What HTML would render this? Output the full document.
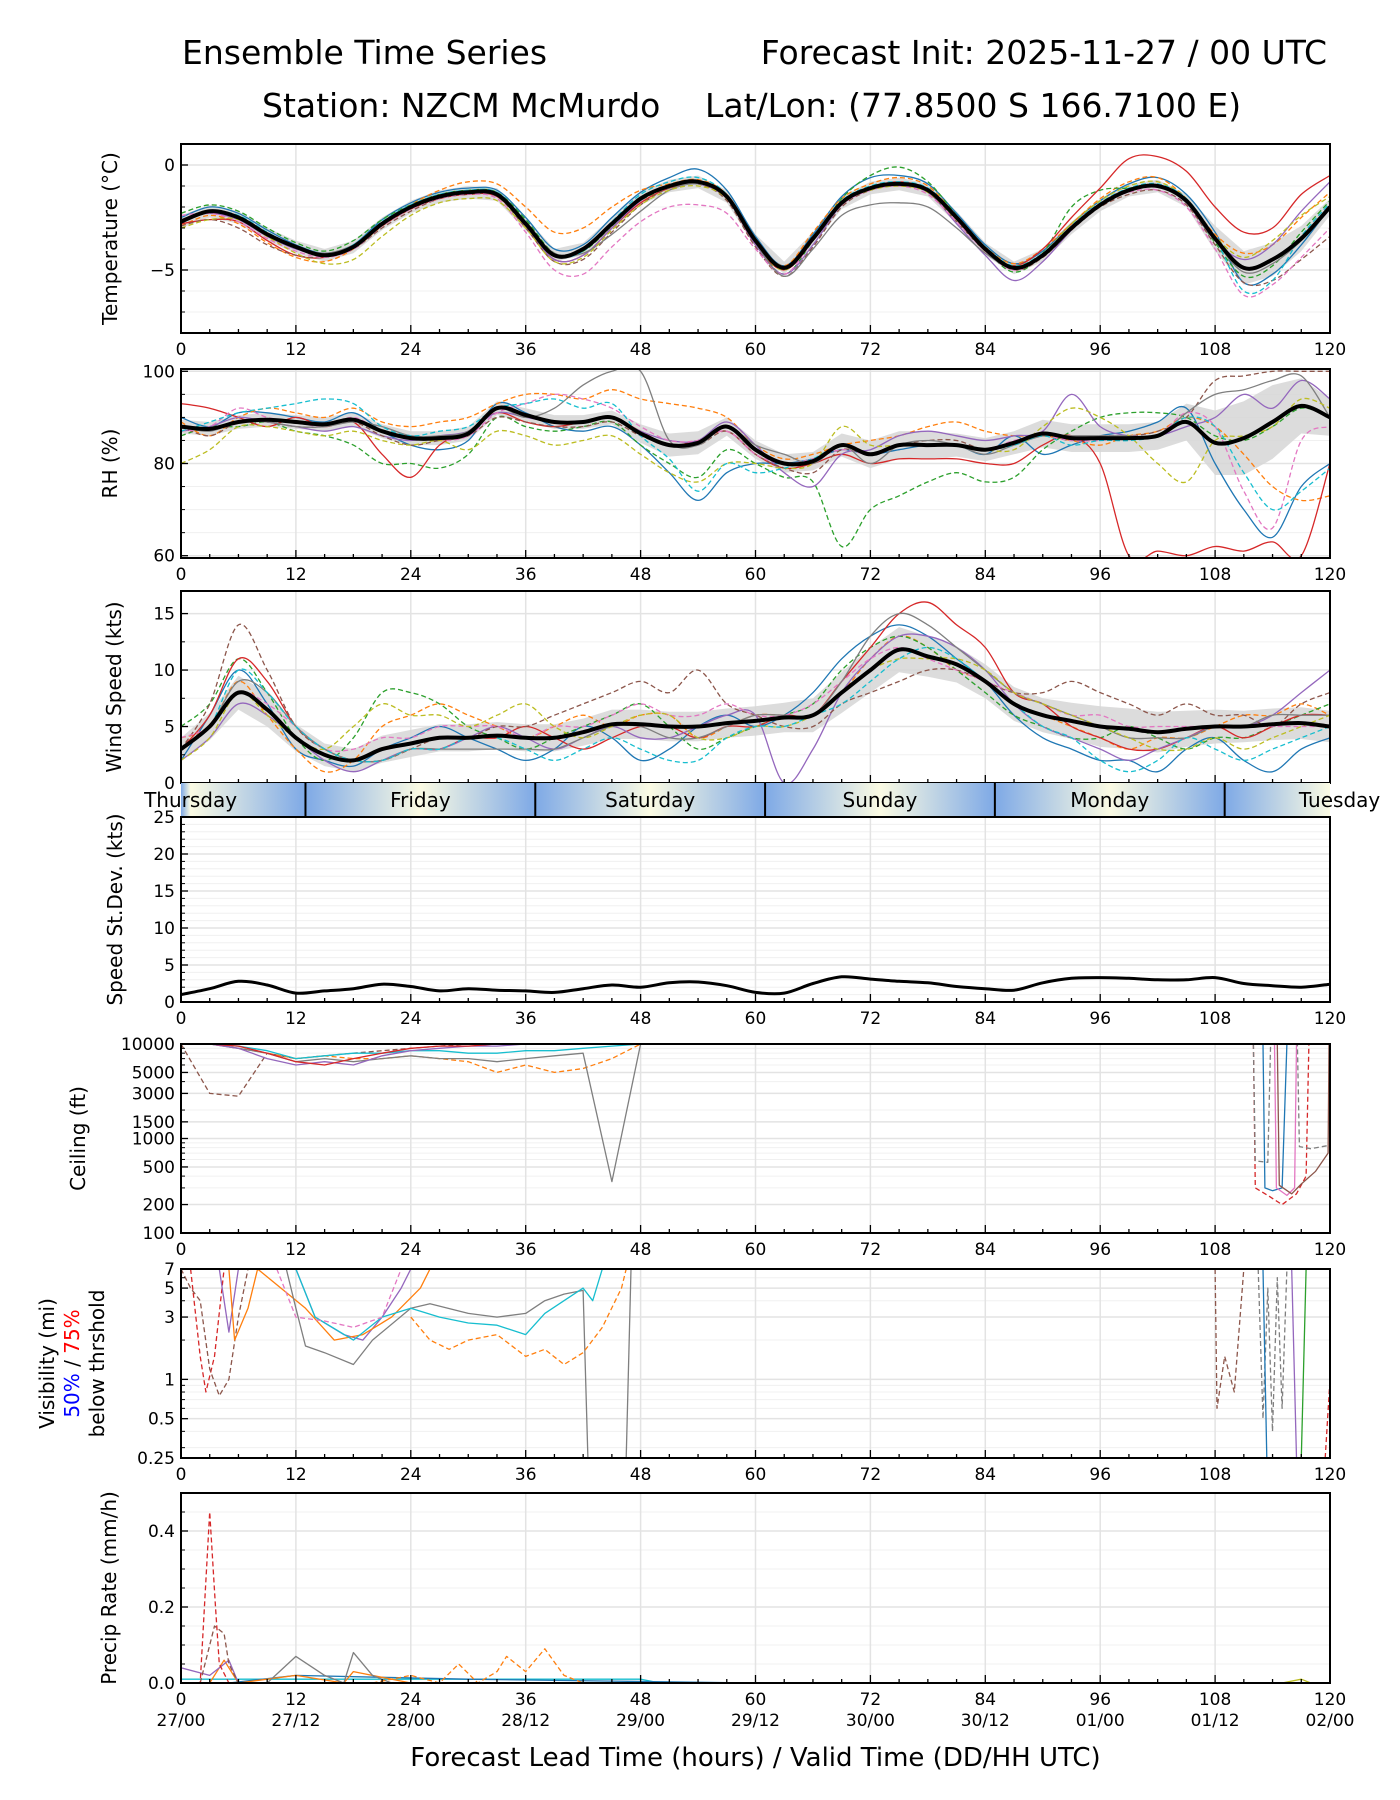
<!DOCTYPE html>
<html><head><meta charset="utf-8">
<style>
html,body{margin:0;padding:0;background:#fff;}
svg{display:block;font-family:"DejaVu Sans","Liberation Sans",sans-serif;}
</style></head>
<body>
<svg id="chart" width="1400" height="1800" viewBox="0 0 1400 1800" xmlns="http://www.w3.org/2000/svg">
<rect width="1400" height="1800" fill="#fff"/>
<text x="182" y="64" font-size="33">Ensemble Time Series</text>
<text x="1327" y="64" font-size="33" text-anchor="end">Forecast Init: 2025-11-27 / 00 UTC</text>
<text x="262" y="117" font-size="33">Station: NZCM McMurdo</text>
<text x="705" y="117" font-size="33">Lat/Lon: (77.8500 S 166.7100 E)</text>
<g id="plots"></g>
</svg>
<script>
// ---------- DATA ----------
const hours3 = [0,3,6,9,12,15,18,21,24,27,30,33,36,39,42,45,48,51,54,57,60,63,66,69,72,75,78,81,84,87,90,93,96,99,102,105,108,111,114,117,120];
const xTicks = [0,12,24,36,48,60,72,84,96,108,120];
const validLabels = ["27/00","27/12","28/00","28/12","29/00","29/12","30/00","30/12","01/00","01/12","02/00"];
const memberColors = ["#1f77b4","#ff7f0e","#2ca02c","#d62728","#9467bd","#8c564b","#e377c2","#7f7f7f","#bcbd22","#17becf"];
const memberDash = [false,true,true,false,false,true,true,false,true,true];

const tempMean = [-2.7,-2.2,-2.5,-3.3,-3.9,-4.3,-3.9,-2.8,-2.0,-1.5,-1.3,-1.4,-2.8,-4.3,-4.0,-2.8,-1.6,-1.0,-0.8,-1.5,-3.6,-4.9,-3.5,-1.8,-1.1,-0.9,-1.2,-2.5,-4.0,-4.9,-4.3,-3.0,-1.9,-1.2,-1.0,-1.7,-3.5,-4.9,-4.5,-3.5,-2.0];
const tempSpread = [0.3,0.3,0.3,0.3,0.3,0.3,0.3,0.3,0.3,0.3,0.3,0.3,0.3,0.3,0.3,0.3,0.3,0.3,0.3,0.3,0.3,0.3,0.3,0.3,0.3,0.3,0.3,0.3,0.3,0.3,0.3,0.3,0.3,0.3,0.3,0.3,0.6,0.8,0.8,0.6,0.4];
const tempM0 = [-2.5,-2.0,-2.3,-3.1,-3.8,-4.2,-3.8,-2.6,-1.8,-1.3,-1.1,-1.2,-2.5,-4.0,-3.8,-2.5,-1.3,-0.6,-0.2,-1.2,-3.4,-4.8,-3.3,-1.5,-0.6,-0.5,-0.9,-2.3,-3.8,-4.7,-4.1,-2.8,-1.7,-0.9,-0.6,-1.4,-3.2,-5.6,-5.2,-3.8,-2.0];
const tempM1 = [-2.9,-2.4,-2.8,-3.7,-4.4,-4.6,-4.0,-2.9,-1.9,-1.2,-0.8,-0.9,-2.0,-3.2,-3.0,-2.0,-1.2,-0.9,-0.7,-1.4,-3.5,-4.8,-3.2,-1.6,-0.9,-0.6,-1.0,-2.4,-3.9,-4.7,-4.0,-2.8,-1.6,-0.8,-0.6,-1.6,-3.3,-4.2,-3.8,-2.5,-1.3];
const tempM2 = [-2.3,-1.9,-2.2,-3.0,-3.7,-4.1,-3.6,-2.6,-1.9,-1.4,-1.2,-1.3,-2.6,-4.2,-4.1,-2.9,-1.7,-1.1,-0.9,-1.6,-3.7,-5.2,-3.6,-1.6,-0.5,-0.1,-0.8,-2.4,-4.0,-5.1,-4.2,-2.0,-1.2,-1.1,-1.0,-1.8,-3.7,-5.3,-4.8,-3.2,-1.7];
const tempM3 = [-2.8,-2.6,-2.7,-3.6,-4.3,-4.4,-3.9,-2.9,-2.1,-1.6,-1.4,-1.5,-2.9,-4.5,-4.3,-3.0,-1.8,-1.1,-0.9,-1.6,-3.8,-5.0,-3.6,-1.9,-1.1,-0.8,-1.2,-2.6,-4.1,-4.8,-4.0,-2.5,-1.1,0.3,0.4,-0.3,-2.0,-3.2,-3.0,-1.4,-0.5];
const tempM4 = [-2.6,-2.3,-2.6,-3.4,-4.0,-4.3,-3.9,-2.8,-2.0,-1.5,-1.3,-1.4,-2.9,-4.5,-4.3,-3.0,-1.7,-1.0,-0.9,-1.6,-3.8,-5.2,-3.8,-1.9,-1.2,-1.0,-1.3,-2.8,-4.3,-5.5,-4.6,-3.1,-1.9,-1.2,-1.0,-1.8,-3.6,-4.5,-3.8,-2.2,-0.8];
const tempM5 = [-2.9,-2.6,-3.0,-3.8,-4.3,-4.4,-4.0,-3.0,-2.2,-1.6,-1.4,-1.5,-3.0,-4.6,-4.5,-3.2,-1.9,-1.1,-0.9,-1.7,-3.9,-5.3,-3.9,-2.0,-1.2,-1.0,-1.3,-2.7,-4.1,-5.0,-4.4,-3.1,-2.0,-1.4,-1.2,-1.9,-3.8,-5.6,-5.5,-4.5,-3.4];
const tempM6 = [-2.4,-2.3,-2.7,-3.5,-4.1,-4.4,-4.0,-2.9,-2.1,-1.6,-1.4,-1.6,-3.2,-5.0,-5.2,-3.9,-2.7,-2.0,-1.9,-2.3,-4.0,-5.2,-3.6,-1.9,-1.2,-1.0,-1.4,-2.7,-4.1,-5.0,-4.3,-3.0,-1.9,-1.3,-1.2,-2.0,-4.0,-6.2,-5.7,-4.4,-3.0];
const tempM7 = [-2.6,-2.2,-2.5,-3.3,-3.9,-4.2,-3.8,-2.8,-2.0,-1.5,-1.3,-1.4,-2.8,-4.2,-4.2,-3.3,-2.2,-1.2,-0.9,-1.5,-3.7,-5.3,-4.0,-2.4,-1.9,-1.8,-2.0,-3.0,-4.2,-4.9,-4.3,-3.0,-1.9,-1.2,-1.0,-1.7,-3.6,-5.1,-4.7,-3.6,-2.1];
const tempM8 = [-3.0,-2.6,-2.6,-3.4,-4.2,-4.7,-4.5,-3.4,-2.4,-1.8,-1.6,-1.7,-3.0,-4.6,-4.4,-3.1,-1.9,-1.2,-1.0,-1.6,-3.7,-5.0,-3.5,-1.8,-1.2,-1.0,-1.3,-2.6,-4.0,-4.8,-4.2,-2.8,-1.7,-1.0,-0.8,-1.6,-3.4,-4.4,-3.6,-2.4,-1.5];
const tempM9 = [-2.7,-2.2,-2.4,-3.2,-3.9,-4.3,-3.8,-2.7,-1.9,-1.4,-1.2,-1.3,-2.7,-4.3,-4.1,-2.7,-1.4,-0.8,-0.6,-1.4,-3.5,-4.9,-3.4,-1.7,-1.0,-0.8,-1.1,-2.4,-3.9,-4.8,-4.2,-2.9,-1.8,-1.1,-0.9,-1.6,-3.5,-6.0,-5.5,-3.4,-1.8];

const rhMean = [88,87.5,89,89.5,89,88.5,89.5,87,85.5,85.5,86.5,92,90.5,89,89,90,86.5,84,84.5,88,83,80,80.5,84,82,84,84,84,83,84.5,86.5,85.5,85.5,85.5,86,89,84.5,85.5,89,92.5,90];
const rhSpread = [1.5,1.5,1.5,1.5,1.5,1.5,1.5,1.5,1.5,1.5,1.5,1.5,1.5,1.5,1.5,1.5,2,2.5,2.5,2,2,2,2,2.5,3,3,3,2.5,2.5,2.5,3,3,3,3,3,4,7,8,8,6,4];
const rhM0 = [90,88,91,91,90,89,91,87,84,83,85,93,91,88,87,88,84,78,72,78,80,80,81,83,82,83,84,84,82,86,82,84,86,87,89,92,80,70,64,75,80];
const rhM1 = [89,86,90,92,91,90,92,89,88,89,90,93,95,95,94,96,94,93,92,90,84,81,82,84,85,86,88,89,87,86,86,85,84,86,87,90,88,82,75,72,73];
const rhM2 = [86,88,88,89,87,86,84,80,80,79,82,90,88,87,88,89,84,80,77,83,80,77,76,62,70,73,76,78,76,77,83,87,90,91,91,90,86,85,88,92,90];
const rhM3 = [93,92,90,88,90,88,89,82,77,84,87,91,89,88,89,90,87,84,85,87,82,79,80,82,80,81,81,81,80,80,84,86,80,60,61,60,62,61,63,60,80];
const rhM4 = [87,88,90,89,88,87,88,86,85,86,87,91,90,89,89,90,87,85,85,89,84,78,75,82,83,86,87,86,85,86,87,95,88,86,86,88,90,95,92,98,94];
const rhM5 = [88,86,89,89,88,88,89,86,84,85,86,90,89,88,88,89,86,84,84,87,82,79,78,83,82,84,85,85,83,84,86,85,86,86,87,90,98,99,100,100,100];
const rhM6 = [87,88,92,90,89,88,90,87,86,85,86,91,93,95,94,92,88,85,85,87,82,80,81,83,82,84,84,84,83,85,86,85,85,86,86,91,88,74,66,85,88];
const rhM7 = [88,87,89,89,88,88,89,88,86,86,87,92,90,92,97,100,100,85,84,88,84,82,80,84,80,84,85,84,82,84,86,86,86,86,86,91,95,96,98,99,90];
const rhM8 = [80,83,88,88,87,86,87,85,84,85,83,87,86,84,85,86,82,78,76,80,80,79,80,88,84,84,84,84,83,83,88,92,90,86,80,76,85,86,88,94,92];
const rhM9 = [87,89,91,92,93,94,93,88,86,87,88,92,93,94,92,93,86,81,74,80,78,79,81,84,82,84,84,84,83,84,86,84,85,85,86,90,88,78,70,74,79];

const windMean = [3.0,5.0,8.0,6.5,4.0,2.5,2.0,3.0,3.5,4.0,4.0,4.2,4.0,4.0,4.5,5.2,5.2,5.0,5.0,5.3,5.5,5.8,6.0,8.0,10.0,11.8,11.2,10.5,9.0,7.0,6.0,5.5,5.0,4.8,4.5,4.8,5.0,5.0,5.2,5.3,5.0];
const windSpread = [1,1.2,1.5,1.5,1.2,1,1,1.2,1.2,1.2,1.2,1.2,1.2,1.2,1.2,1.3,1.3,1.3,1.3,1.3,1.3,1.3,1.5,1.8,2,2,1.8,1.6,1.5,1.5,1.5,1.6,1.8,1.8,1.8,1.6,1.5,1.4,1.4,1.4,1.4];
const windM0 = [2,6,10,7,3,2,1.5,3,4,5,4,3,2,3,5,4,2,3,5,6,5,6,8,11,13,14,13,11,9,6,4,3,2,2,1,3,4,2,1,3,4];
const windM1 = [4,5,9,6,3,1,2,5,6,7,6,5,4,5,6,5,6,6,4,5,6,6,6,8,11,13,12,10,9,7,6,5,4,3,4,4,5,6,6,7,6];
const windM2 = [5,7,11,8,4,2,4,8,8,7,5,4,3,4,5,6,7,5,3,4,5,6,7,10,12,13,12,10,8,6,5,4,4,5,4,3,4,4,5,6,7];
const windM3 = [3,6,11,9,5,3,2,2,3,3,4,4,5,4,3,4,5,5,4,5,5,6,6,9,12,15,16,14,12,8,7,5,4,3,3,4,5,4,5,6,6];
const windM4 = [2,4,7,6,4,2,1,2,3,3,4,5,4,3,4,5,4,4,5,6,6,0,3,8,11,13,13,12,10,7,5,4,3,2,3,4,5,5,6,8,10];
const windM5 = [3,7,14,10,5,3,2,2,3,4,4,5,5,6,7,8,9,8,10,7,6,5,5,7,8,9,10,10,9,8,8,9,8,7,6,7,6,6,5,7,8];
const windM6 = [4,5,8,7,5,3,3,4,4,5,5,5,4,5,5,6,7,6,6,7,6,6,7,9,11,12,11,10,9,8,7,6,6,5,5,5,5,5,5,5,5];
const windM7 = [3,5,9,8,5,3,2,2,3,3,3,3,3,3,4,5,5,4,4,5,6,6,6,9,13,15,14,12,10,8,7,6,5,4,4,4,5,5,6,6,6];
const windM8 = [2,4,8,6,4,3,5,7,6,6,5,6,7,5,4,5,6,6,4,4,5,5,6,8,10,11,11,11,10,8,7,6,5,4,3,3,4,3,4,5,6];
const windM9 = [3,5,10,8,5,3,2,2,3,3,4,4,3,2,3,4,3,2,2,4,5,5,6,7,9,11,12,11,9,7,5,4,2,1,2,4,3,2,3,4,5];

const stdDev = [1.0,1.8,2.8,2.3,1.2,1.5,1.8,2.4,2.1,1.5,1.8,1.6,1.5,1.3,1.8,2.3,2.0,2.6,2.7,2.2,1.3,1.2,2.5,3.4,3.1,2.8,2.6,2.1,1.8,1.6,2.6,3.2,3.3,3.2,3.0,3.0,3.3,2.5,2.2,2.0,2.4];

const ceilHours = [0,3,6,9,12,15,18,21,24,27,30,33,36,39,42,45,48];
const ceilC0 = [10000,3000,2800,8000,7000,7500,8000,8500,9000,9500,10000,10000,10000,10000,10000,10000,10000];
const ceilC1 = [10000,10000,9000,8000,7000,7500,7000,7000,7500,7000,6500,5000,6000,5000,5500,7000,10000];
const ceilC2 = [10000,10000,9500,8500,7000,7500,8000,8000,8500,8500,8000,8000,8500,8500,9000,9500,10000];
const ceilC3 = [10000,10000,9000,8000,6500,7000,6500,7000,7500,7000,7000,6500,7000,7500,8000,350,10000];
const ceilC4 = [10000,10000,9000,7000,6000,6500,6000,7500,8500,9000,9500,9500,10000,10000,10000,10000,10000];
const ceilC5 = [10000,10000,9500,8000,6500,6000,7000,8000,9000,9500,9500,10000,10000,10000,10000,10000,10000];
const ceilLateRed = [[112,10000],[112.2,300],[113.5,250],[115,200],[116.5,260],[117.5,400],[117.8,10000]];
const ceilLateBlue = [[113,10000],[113.2,300],[114,280],[115,300],[115.5,10000]];
const ceilLatePink = [[114.2,10000],[114.4,300],[115.5,250],[116.3,300],[116.5,10000]];
const ceilLateBrown = [[114.5,10000],[114.7,320],[116,260],[117,330],[118.5,450],[119.8,700],[119.9,10000]];
const ceilLateGrey = [[112,10000],[112.2,580],[113.5,560],[113.8,10000],[116.6,10000],[116.8,820],[118,780],[120,850]];

const visRedD = [[1,7],[2,1.5],[2.6,0.8],[3.5,1.5],[4.5,7]];
const visBrownD = [[0,7],[1,5],[2,4],[3,1.2],[4,0.75],[5,1],[6,3],[7,7]];
const visPurple = [[4,7],[5,2.3],[6,7],[12,7],[14,3],[17,2.2],[19,2],[21,3],[23,5],[24,7]];
const visOrange = [[5,7],[5.6,2],[7,3.5],[8,7],[13,3.5],[16,2],[19,2.2],[22,3],[25,5],[26,7]];
const visGrey = [[11,7],[12,3.5],[13,1.8],[15,1.6],[18,1.3],[20,2],[24,3.5],[26,3.8],[30,3.2],[33,3],[36,3.2],[38,4],[40,4.5],[42,4.8],[42.5,0.25]];
const visGreyB = [[46.5,0.25],[47,7]];
const visCyan = [[12,7],[14,3],[18,2],[21,3],[24,3.5],[27,3],[30,2.7],[33,2.6],[36,2.2],[38,3.2],[40,4],[42,5],[43,4],[44,7]];
const visOrangeD = [[24,3],[26,2],[28,1.7],[30,2],[33,2.2],[36,1.5],[38,1.7],[40,1.3],[42,1.6],[44,2.5],[46,5],[46.5,7]];
const visPinkD = [[10,7],[12,3],[15,2.8],[18,2.5],[21,3],[23,7]];
const visLateBrown = [[108,7],[108.2,0.6],[109,1.5],[110,0.8],[111,7]];
const visLateGrey = [[112.5,7],[113,0.5],[113.5,5],[114,0.4],[114.5,6],[115,0.6],[115.5,7]];
const visLateBlue = [[113,7],[113.4,0.25]];
const visLateGreen = [[117,0.25],[117.5,7]];
const visLatePurple = [[116,7],[116.5,0.25]];
const visLateRed = [[119.5,0.25],[120,1]];

const prRedD = [[0,0],[2,0],[3,0.45],[3.6,0.2],[4,0.05],[5,0]];
const prBrownD = [[2,0],[3.5,0.15],[4.5,0.13],[5,0.05],[6,0]];
const prGrey = [[9,0],[12,0.07],[15,0.02],[17,0],[18,0.08],[20,0.02],[22,0]];
const prOrangeD = [[20,0],[24,0.02],[27,0],[29,0.05],[31,0],[33,0.03],[34,0.07],[36,0.03],[38,0.09],[40,0.02],[42,0],[48,0]];
const prPurple = [[0,0.04],[3,0.02],[5,0.06],[6,0]];
const prOrange = [[3,0],[4.5,0.06],[6,0],[12,0.02],[17,0],[18,0.03],[24,0],[48,0]];
const prOlive = [[115,0],[117,0.01],[118,0]];
const prCyan = [[0,0.01],[48,0.01],[50,0]];
const prBlue = [[5,0],[12,0.02],[30,0.01],[45,0.005],[60,0]];

const dayNames = ["Thursday","Friday","Saturday","Sunday","Monday","Tuesday"];
const dayCentres = [1,25,49,73,97,121];
const dayBounds = [13,37,61,85,109];

// ---------- DRAWING ----------
const NS = "http://www.w3.org/2000/svg";
const root = document.getElementById("plots");
const L = 181, R = 1330;
const xs = h => L + h / 120 * (R - L);
function el(tag, attrs, parent) {
  const e = document.createElementNS(NS, tag);
  for (const k in attrs) e.setAttribute(k, attrs[k]);
  (parent || root).appendChild(e);
  return e;
}
function linY(lo, hi, top, bot) { return v => bot - (v - lo) / (hi - lo) * (bot - top); }
function logY(lo, hi, top, bot) { return v => bot - (Math.log10(v) - Math.log10(lo)) / (Math.log10(hi) - Math.log10(lo)) * (bot - top); }
function smoothPath(pts) {
  let d = "M" + pts[0][0].toFixed(1) + "," + pts[0][1].toFixed(1);
  for (let i = 0; i < pts.length - 1; i++) {
    const p0 = pts[i - 1] || pts[i], p1 = pts[i], p2 = pts[i + 1], p3 = pts[i + 2] || p2;
    const c1 = [p1[0] + (p2[0] - p0[0]) / 6, p1[1] + (p2[1] - p0[1]) / 6];
    const c2 = [p2[0] - (p3[0] - p1[0]) / 6, p2[1] - (p3[1] - p1[1]) / 6];
    d += "C" + c1[0].toFixed(1) + "," + c1[1].toFixed(1) + " " + c2[0].toFixed(1) + "," + c2[1].toFixed(1) + " " + p2[0].toFixed(1) + "," + p2[1].toFixed(1);
  }
  return d;
}
function linePath(pts) { return "M" + pts.map(p => p[0].toFixed(1) + "," + p[1].toFixed(1)).join("L"); }

function panel(name, top, bot, yf, yticks, ytickLabels, minorGrid, ylabelLines, ylabelX, xlab) {
  const g = el("g", {});
  
  
  minorGrid.forEach(v => el("line", {x1: L, x2: R, y1: yf(v), y2: yf(v), stroke: "#f0f0f0", "stroke-width": 1}, g));
  xTicks.forEach(h => el("line", {x1: xs(h), x2: xs(h), y1: top, y2: bot, stroke: "#e3e3e3", "stroke-width": 1.5}, g));
  yticks.forEach(v => el("line", {x1: L, x2: R, y1: yf(v), y2: yf(v), stroke: "#e3e3e3", "stroke-width": 1.5}, g));
  const clip = el("clipPath", {id: "clip-" + name}, g);
  el("rect", {x: L, y: top, width: R - L, height: bot - top}, clip);
  const plot = el("g", {"clip-path": "url(#clip-" + name + ")"}, g);
  const axes = el("g", {}, g);
  el("rect", {x: L, y: top, width: R - L, height: bot - top, fill: "none", stroke: "#000", "stroke-width": 2}, axes);
  for (let h = 0; h <= 120; h += 3) {
    const major = h % 12 === 0;
    el("line", {x1: xs(h), x2: xs(h), y1: bot, y2: bot - (major ? 8 : 4), stroke: "#000", "stroke-width": 1.3}, axes);
  }
  yticks.forEach((v, i) => {
    el("line", {x1: L, x2: L + 7, y1: yf(v), y2: yf(v), stroke: "#000", "stroke-width": 1.3}, axes);
    const t = el("text", {x: L - 6, y: yf(v) + 6, "font-size": 17, "text-anchor": "end"}, axes);
    
    
    t.textContent = ytickLabels[i];
  });
  minorGrid.forEach(v => el("line", {x1: L, x2: L + 4, y1: yf(v), y2: yf(v), stroke: "#000", "stroke-width": 1}, axes));
  if (xlab) xTicks.forEach(h => {
    const t = el("text", {x: xs(h), y: bot + 22, "font-size": 17, "text-anchor": "middle"}, axes);
    
    
    t.textContent = h;
  });
  ylabelLines.forEach((ln, i) => {
    const cy = (top + bot) / 2;
    const t = el("text", {x: 0, y: 0, "font-size": 20, "text-anchor": "middle", transform: "translate(" + ylabelX[i] + "," + cy + ") rotate(-90)"}, axes);
    
    
    if (Array.isArray(ln)) ln.forEach(seg => { const s = el("tspan", {fill: seg[1]}, t); s.textContent = seg[0]; });
    else t.textContent = ln;
  });
  return plot;
}
function member(plot, vals, yf, color, dashed, name) {
  const pts = vals.map((v, i) => [xs(hours3[i]), yf(v)]);
  const p = el("path", {d: smoothPath(pts), fill: "none", stroke: color, "stroke-width": 1.3, "stroke-dasharray": dashed ? "5,3" : "none"}, plot);
  
  
}
function pairLine(plot, pairs, yf, color, dashed, name) {
  const pts = pairs.map(p => [xs(p[0]), yf(p[1])]);
  const p = el("path", {d: linePath(pts), fill: "none", stroke: color, "stroke-width": 1.3, "stroke-dasharray": dashed ? "5,3" : "none", "stroke-linejoin": "round"}, plot);
  
  
}
function band(plot, mean, spread, yf, name) {
  const up = mean.map((v, i) => [xs(hours3[i]), yf(v + spread[i])]);
  const dn = mean.map((v, i) => [xs(hours3[i]), yf(v - spread[i])]).reverse();
  const p = el("path", {d: linePath(up) + "L" + linePath(dn).slice(1) + "Z", fill: "#d6d6d6", opacity: 0.85}, plot);
  
  
}
function meanLine(plot, vals, yf, name) {
  const pts = vals.map((v, i) => [xs(hours3[i]), yf(v)]);
  const p = el("path", {d: smoothPath(pts), fill: "none", stroke: "#000", "stroke-width": 4, "stroke-linejoin": "round"}, plot);
  
  
}

// Temperature
{
  const yf = linY(-8, 1, 144, 333);
  const plot = panel("temperature", 144, 333, yf, [0, -5], ["0", "\u22125"], [-8,-7,-6,-4,-3,-2,-1], ["Temperature (\u00b0C)"], [117], true);
  band(plot, tempMean, tempSpread, yf, "temperature-spread-band");
  [tempM0,tempM1,tempM2,tempM3,tempM4,tempM5,tempM6,tempM7,tempM8,tempM9].forEach((m, i) => member(plot, m, yf, memberColors[i], memberDash[i], "temperature-member-" + i));
  meanLine(plot, tempMean, yf, "temperature-mean-line");
}
// RH
{
  const yf = linY(59.5, 100.5, 369, 558);
  const plot = panel("rh", 369, 558, yf, [60, 80, 100], ["60", "80", "100"], [65,70,75,85,90,95], ["RH (%)"], [117], true);
  band(plot, rhMean, rhSpread, yf, "rh-spread-band");
  [rhM0,rhM1,rhM2,rhM3,rhM4,rhM5,rhM6,rhM7,rhM8,rhM9].forEach((m, i) => member(plot, m, yf, memberColors[i], memberDash[i], "rh-member-" + i));
  meanLine(plot, rhMean, yf, "rh-mean-line");
}
// Wind
{
  const yf = linY(0, 17, 591, 783);
  const plot = panel("wind", 591, 783, yf, [0, 5, 10, 15], ["0", "5", "10", "15"], [2.5,7.5,12.5], ["Wind Speed (kts)"], [121], false);
  band(plot, windMean, windSpread, yf, "wind-spread-band");
  [windM0,windM1,windM2,windM3,windM4,windM5,windM6,windM7,windM8,windM9].forEach((m, i) => member(plot, m, yf, memberColors[i], memberDash[i], "wind-member-" + i));
  meanLine(plot, windMean, yf, "wind-mean-line");
}
// Day band
{
  const g = el("g", {});
  
  
  const defs = el("defs", {}, g);
  const lg = el("linearGradient", {id: "dayGrad", x1: L, x2: R, y1: 0, y2: 0, gradientUnits: "userSpaceOnUse"}, defs);
  for (let h = -11; h <= 133; h += 12) {
    const pale = ((h - 1) % 24 + 24) % 24 === 0;
    el("stop", {offset: ((xs(h) - L) / (R - L)).toFixed(4), "stop-color": pale ? "#fbfbe3" : "#7ea9e6"}, lg);
  }
  el("rect", {x: L, y: 783, width: R - L, height: 34, fill: "url(#dayGrad)"}, g);
  dayBounds.forEach(h => el("line", {x1: xs(h), x2: xs(h), y1: 783, y2: 817, stroke: "#000", "stroke-width": 2}, g));
  dayNames.forEach((n, i) => {
    const t = el("text", {x: xs(dayCentres[i]), y: 807, "font-size": 20, "text-anchor": "middle"}, g);
    
    
    t.textContent = n;
  });
}
// Speed std dev
{
  const yf = linY(0, 25, 817, 1002);
  const plot = panel("speed-stdev", 817, 1002, yf, [0,5,10,15,20,25], ["0","5","10","15","20","25"], [1,2,3,4,6,7,8,9,11,12,13,14,16,17,18,19,21,22,23,24], ["Speed St.Dev. (kts)"], [122], true);
  meanLine(plot, stdDev, yf, "speed-stdev-line");
  plot.lastChild.setAttribute("stroke-width", 3);
}
// Ceiling
{
  const yf = logY(100, 10000, 1044, 1233);
  const plot = panel("ceiling", 1044, 1233, yf, [100,200,500,1000,1500,3000,5000,10000], ["100","200","500","1000","1500","3000","5000","10000"], [300,400,600,700,800,900,2000,4000,6000,7000,8000,9000], ["Ceiling (ft)"], [85], true);
  const cm = [[ceilC0,"#8c564b",true],[ceilC1,"#ff7f0e",true],[ceilC2,"#17becf",false],[ceilC3,"#7f7f7f",false],[ceilC4,"#9467bd",false],[ceilC5,"#d62728",false]];
  cm.forEach((c, i) => pairLine(plot, c[0].map((v, j) => [ceilHours[j], v]), yf, c[1], c[2], "ceiling-member-" + i));
  pairLine(plot, ceilLateRed, yf, "#d62728", true, "ceiling-late-red");
  pairLine(plot, ceilLateBlue, yf, "#1f77b4", false, "ceiling-late-blue");
  pairLine(plot, ceilLatePink, yf, "#e377c2", false, "ceiling-late-pink");
  pairLine(plot, ceilLateBrown, yf, "#8c564b", false, "ceiling-late-brown");
  pairLine(plot, ceilLateGrey, yf, "#7f7f7f", true, "ceiling-late-grey");
}
// Visibility
{
  const yf = logY(0.25, 7, 1269, 1458);
  const plot = panel("visibility", 1269, 1458, yf, [0.25,0.5,1,3,5,7], ["0.25","0.5","1","3","5","7"], [0.3,0.4,0.6,0.7,0.8,0.9,2,4,6], ["Visibility (mi)", [["50%","#0000ff"],[" / ","#000"],["75%","#ff0000"]], "below thrshold"], [54, 79, 104], true);
  const vm = [[visRedD,"#d62728",true],[visBrownD,"#8c564b",true],[visPurple,"#9467bd",false],[visOrange,"#ff7f0e",false],[visGrey,"#7f7f7f",false],[visGreyB,"#7f7f7f",false],[visCyan,"#17becf",false],[visOrangeD,"#ff7f0e",true],[visPinkD,"#e377c2",true],[visLateBrown,"#8c564b",true],[visLateGrey,"#7f7f7f",true],[visLateBlue,"#1f77b4",false],[visLateGreen,"#2ca02c",false],[visLatePurple,"#9467bd",false],[visLateRed,"#d62728",true]];
  vm.forEach((v, i) => pairLine(plot, v[0], yf, v[1], v[2], "visibility-member-" + i));
}
// Precip
{
  const yf = linY(0, 0.5, 1493, 1683);
  const plot = panel("precip", 1493, 1683, yf, [0, 0.2, 0.4], ["0.0", "0.2", "0.4"], [0.05,0.1,0.15,0.25,0.3,0.35,0.45], ["Precip Rate (mm/h)"], [116], true);
  const pm = [[prCyan,"#17becf",false],[prBlue,"#1f77b4",false],[prOrange,"#ff7f0e",false],[prPurple,"#9467bd",false],[prGrey,"#7f7f7f",false],[prOrangeD,"#ff7f0e",true],[prBrownD,"#8c564b",true],[prRedD,"#d62728",true],[prOlive,"#bcbd22",false]];
  pm.forEach((p, i) => pairLine(plot, p[0], yf, p[1], p[2], "precip-member-" + i));
  xTicks.forEach((h, i) => {
    const t = el("text", {x: xs(h), y: 1726, "font-size": 17, "text-anchor": "middle"});
    
    
    t.textContent = validLabels[i];
  });
  const xt = el("text", {x: (L + R) / 2, y: 1766, "font-size": 26, "text-anchor": "middle"});
  
  
  xt.textContent = "Forecast Lead Time (hours) / Valid Time (DD/HH UTC)";
}
</script>
</body></html>
